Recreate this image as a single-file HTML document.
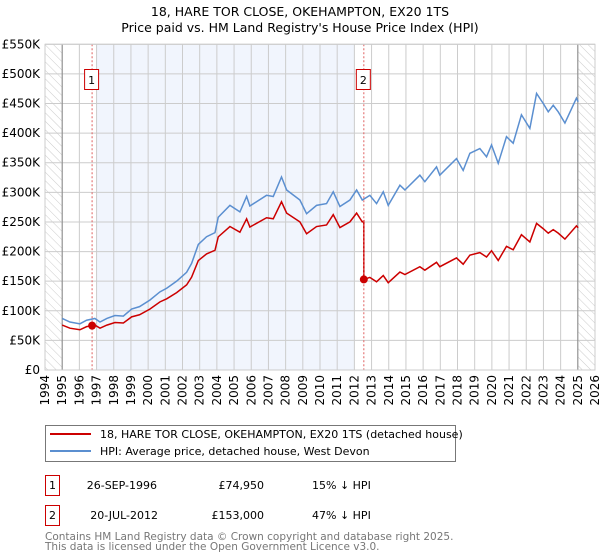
<!DOCTYPE html>
<html><head><meta charset="utf-8"><style>
body{margin:0;background:#fff;font-family:"DejaVu Sans","Liberation Sans",sans-serif}
svg{display:block}
</style></head><body>
<svg id="chart" width="600" height="560" xmlns="http://www.w3.org/2000/svg" font-family="DejaVu Sans, Liberation Sans, sans-serif">
<defs><pattern id="hatch" patternUnits="userSpaceOnUse" width="6" height="6" patternTransform="rotate(-45)"><line x1="0" y1="0" x2="0" y2="6" stroke="#ccc" stroke-width="1"/></pattern></defs>
<text x="300" y="16" text-anchor="middle" font-size="12.5">18, HARE TOR CLOSE, OKEHAMPTON, EX20 1TS</text>
<text x="300" y="32" text-anchor="middle" font-size="12.5">Price paid vs. HM Land Registry's House Price Index (HPI)</text>
<g id="plot"></g>
<g>
<rect x="45.5" y="425.5" width="410" height="36" fill="#fff" stroke="#777"/>
<line x1="50" y1="434" x2="91" y2="434" stroke="#cc0000" stroke-width="2"/>
<text x="100" y="438" font-size="11">18, HARE TOR CLOSE, OKEHAMPTON, EX20 1TS (detached house)</text>
<line x1="50" y1="451" x2="91" y2="451" stroke="#5b8fd0" stroke-width="2"/>
<text x="100" y="455" font-size="11">HPI: Average price, detached house, West Devon</text>
</g>
<g font-size="11">
<rect x="45.5" y="475.5" width="14" height="20" fill="#fff" stroke="#cc0000"/>
<text x="52.5" y="489" text-anchor="middle">1</text>
<text x="157" y="489" text-anchor="end">26-SEP-1996</text>
<text x="264" y="489" text-anchor="end">£74,950</text>
<text x="312" y="489">15% ↓ HPI</text>
<rect x="45.5" y="505.5" width="14" height="20" fill="#fff" stroke="#cc0000"/>
<text x="52.5" y="519" text-anchor="middle">2</text>
<text x="158" y="519" text-anchor="end">20-JUL-2012</text>
<text x="264" y="519" text-anchor="end">£153,000</text>
<text x="312" y="519">47% ↓ HPI</text>
</g>
<g font-size="10.5" fill="#777">
<text x="45" y="540">Contains HM Land Registry data © Crown copyright and database right 2025.</text>
<text x="45" y="550">This data is licensed under the Open Government Licence v3.0.</text>
</g>
</svg>
<script>
const hpiYears=[1995.0,1995.45,1996.03,1996.42,1996.9,1997.2,1997.6,1998.07,1998.56,1999.04,1999.5,2000.1,2000.69,2001.08,2001.66,2002.24,2002.53,2002.92,2003.4,2003.89,2004.08,2004.76,2005.34,2005.73,2005.92,2006.89,2007.28,2007.76,2008.06,2008.83,2009.22,2009.8,2010.38,2010.77,2011.16,2011.74,2012.13,2012.46,2012.9,2013.29,2013.68,2013.97,2014.65,2014.94,2015.81,2016.1,2016.78,2016.97,2017.94,2018.33,2018.72,2019.3,2019.69,2019.98,2020.37,2020.85,2021.24,2021.72,2022.21,2022.6,2022.99,2023.28,2023.57,2023.86,2024.25,2024.92,2025.02];
const hpiValues=[87,81,78,84,87,81,87,92,91,103,107,118,132,138,150,165,180,212,225,232,258,278,267,293,277,295,293,326,304,287,264,278,281,301,276,287,304,287,295,281,301,278,312,304,329,318,343,329,357,337,366,374,360,380,349,394,383,431,408,467,450,436,447,436,417,459,453];
const saleYears=[1996.74,2012.55];
const salePrices=[74950,153000];
const saleLabels=["1","2"];
const yTicks=[0,50,100,150,200,250,300,350,400,450,500,550];
const yTickLabels=["£0","£50K","£100K","£150K","£200K","£250K","£300K","£350K","£400K","£450K","£500K","£550K"];
const xTicks=[1994,1995,1996,1997,1998,1999,2000,2001,2002,2003,2004,2005,2006,2007,2008,2009,2010,2011,2012,2013,2014,2015,2016,2017,2018,2019,2020,2021,2022,2023,2024,2025,2026];
const shadeRange=[1997.0,2012.0];

const L=45,R=595,T=44.3,B=370;
const X=y=>L+(y-1994)/(2026-1994)*(R-L);
const Y=v=>B-v/550*(B-T);
const NS="http://www.w3.org/2000/svg";
const plot=document.getElementById('plot');
function mk(tag,attrs,parent){const e=document.createElementNS(NS,tag);for(const k in attrs)e.setAttribute(k,attrs[k]);(parent||plot).appendChild(e);return e;}
function hpiAt(t){for(let i=0;i<hpiYears.length-1;i++){if(t<=hpiYears[i+1]){const f=(t-hpiYears[i])/(hpiYears[i+1]-hpiYears[i]);return hpiValues[i]+f*(hpiValues[i+1]-hpiValues[i]);}}return hpiValues[hpiValues.length-1];}

const bg=mk('rect',{x:L,y:T,width:R-L,height:B-T,fill:'#fff'});


const sh=mk('rect',{x:X(shadeRange[0]),y:T,width:X(shadeRange[1])-X(shadeRange[0]),height:B-T,fill:'#eef3fc',opacity:0.8});


const h1=mk('rect',{x:L,y:T,width:X(1995)-L,height:B-T,fill:'url(#hatch)'});


const h2=mk('rect',{x:X(2025),y:T,width:R-X(2025),height:B-T,fill:'url(#hatch)'});


yTicks.forEach((v,i)=>{
  const g=mk('line',{x1:L,x2:R,y1:Y(v),y2:Y(v),stroke:'#ccc','stroke-width':1});
  
  
  const t=mk('text',{x:L-5,y:Y(v)+4,'text-anchor':'end','font-size':12});
  t.textContent=yTickLabels[i];
  
  
});
xTicks.forEach(yr=>{
  const g=mk('line',{x1:X(yr),x2:X(yr),y1:T,y2:B,stroke:'#ccc','stroke-width':1});
  
  
  const t=mk('text',{transform:`translate(${X(yr)+4},${B+5}) rotate(-90)`,'text-anchor':'end','font-size':12});
  t.textContent=yr;
  
  
});
[X(1995),X(2025)].forEach(x=>{const l=mk('line',{x1:x,x2:x,y1:T,y2:B,stroke:'#888','stroke-width':1});

});
// HPI line
const hp=mk('polyline',{points:hpiYears.map((t,i)=>X(t)+','+Y(hpiValues[i])).join(' '),fill:'none',stroke:'#5b8fd0','stroke-width':1.5});


// price line indexed from sales
const pts=[];
hpiYears.forEach((t,i)=>{
  let s=-1;for(let k=0;k<saleYears.length;k++)if(t>=saleYears[k])s=k;
  if(s<0)s=0;
  pts.push([t,salePrices[s]/1000*hpiValues[i]/hpiAt(saleYears[s])]);
});
for(let k=0;k<saleYears.length;k++){
  const before=k>0?salePrices[k-1]/1000*hpiAt(saleYears[k])/hpiAt(saleYears[k-1]):salePrices[k]/1000;
  pts.push([saleYears[k]-0.001,before]);pts.push([saleYears[k],salePrices[k]/1000]);
}
pts.sort((a,b)=>a[0]-b[0]);
const pl=mk('polyline',{points:pts.map(p=>X(p[0])+','+Y(p[1])).join(' '),fill:'none',stroke:'#cc0000','stroke-width':1.5});


saleYears.forEach((t,i)=>{
  const v=mk('line',{x1:X(t),x2:X(t),y1:T,y2:B,stroke:'#e06060','stroke-width':1,'stroke-dasharray':'2,2'});
  
  
  const c=mk('circle',{cx:X(t),cy:Y(salePrices[i]/1000),r:4,fill:'#cc0000'});
  
  
  const b=mk('rect',{x:X(t)-7.5,y:69.5,width:14,height:20,fill:'#fff',stroke:'#cc0000'});
  
  
  const tx=mk('text',{x:X(t)-0.5,y:84,'text-anchor':'middle','font-size':11});
  tx.textContent=saleLabels[i];
  
  
});
const fr=mk('rect',{x:L,y:T,width:R-L,height:B-T,fill:'none',stroke:'#ccc'});


</script>
</body></html>
